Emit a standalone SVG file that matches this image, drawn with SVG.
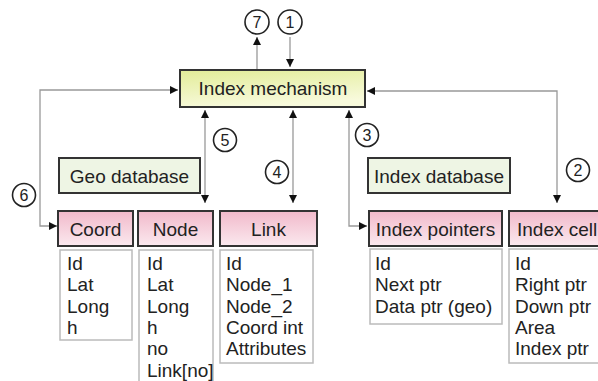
<svg xmlns="http://www.w3.org/2000/svg" width="598" height="381" viewBox="0 0 598 381">
<defs>
<linearGradient id="gY" x1="0" y1="0" x2="0.3" y2="1">
<stop offset="0" stop-color="#e2ec98"/>
<stop offset="1" stop-color="#f8fadc"/>
</linearGradient>
<linearGradient id="gP" x1="0" y1="0" x2="0" y2="1">
<stop offset="0" stop-color="#f1b9ca"/>
<stop offset="1" stop-color="#fbe9ef"/>
</linearGradient>
<marker id="ah" viewBox="0 0 10 10" refX="10" refY="5" markerWidth="8" markerHeight="8" markerUnits="userSpaceOnUse" orient="auto-start-reverse">
<path d="M0,0 L10,5 L0,10 Z" fill="#111"/>
</marker>
<style>
.t{font-family:"Liberation Sans",Arial,sans-serif;font-size:19px;fill:#222}
.c{text-anchor:middle}
.n{font-family:"Liberation Sans",Arial,sans-serif;font-size:16px;fill:#222;text-anchor:middle}
.hdr{fill:url(#gP);stroke:#333;stroke-width:2}
.body{fill:#fff;stroke:#bbb;stroke-width:1.5}
.db{fill:#eef5e4;stroke:#333;stroke-width:2}
.cn{fill:none;stroke:#999;stroke-width:1.3;marker-end:url(#ah)}
.both{marker-start:url(#ah)}
.circ{fill:#fff;stroke:#222;stroke-width:1.6}
</style>
</defs>
<g id="connectors">
<path class="cn" d="M257,70 V37"/>
<path class="cn" d="M290,37 V67"/>
<path class="cn both" d="M178,90 H40 V226 H57"/>
<path class="cn both" d="M205,110 V203"/>
<path class="cn both" d="M293,110 V203"/>
<path class="cn both" d="M349,110 V226 H367"/>
<path class="cn both" d="M367,91 H557 V203"/>
</g>
<g id="labels">
<g id="c7"><circle class="circ" cx="257" cy="22" r="12"/><text class="n" x="257" y="28">7</text></g>
<g id="c1"><circle class="circ" cx="290" cy="22" r="12"/><text class="n" x="290" y="28">1</text></g>
<g id="c6"><circle class="circ" cx="24" cy="195" r="11.5"/><text class="n" x="24" y="201">6</text></g>
<g id="c5"><circle class="circ" cx="225" cy="140" r="11.5"/><text class="n" x="225" y="146">5</text></g>
<g id="c4"><circle class="circ" cx="277" cy="172" r="11.5"/><text class="n" x="277" y="178">4</text></g>
<g id="c3"><circle class="circ" cx="367" cy="135" r="11.5"/><text class="n" x="367" y="141">3</text></g>
<g id="c2"><circle class="circ" cx="578" cy="170" r="11.5"/><text class="n" x="578" y="176">2</text></g>
</g>
<g id="index-mechanism">
<rect x="180" y="70" width="185" height="37" fill="url(#gY)" stroke="#333" stroke-width="2"/>
<text class="t c" x="273" y="95">Index mechanism</text>
</g>
<g id="geo-database">
<rect class="db" x="59" y="158" width="141" height="35"/>
<text class="t c" x="129.5" y="182.5">Geo database</text>
</g>
<g id="index-database">
<rect class="db" x="368" y="158" width="142" height="35"/>
<text class="t c" x="439" y="182.5">Index database</text>
</g>
<g id="coord">
<rect class="hdr" x="58" y="211" width="75" height="35"/>
<text class="t c" x="95.5" y="236">Coord</text>
<rect class="body" x="60" y="250" width="72" height="90"/>
<text class="t" x="67" y="270">Id</text>
<text class="t" x="67" y="291.3">Lat</text>
<text class="t" x="67" y="312.6">Long</text>
<text class="t" x="67" y="333.9">h</text>
</g>
<g id="node">
<rect class="hdr" x="138" y="211" width="75" height="35"/>
<text class="t c" x="175.5" y="236">Node</text>
<rect class="body" x="139" y="250" width="74" height="140"/>
<text class="t" x="147" y="270">Id</text>
<text class="t" x="147" y="291.3">Lat</text>
<text class="t" x="147" y="312.6">Long</text>
<text class="t" x="147" y="333.9">h</text>
<text class="t" x="147" y="355.2">no</text>
<text class="t" x="147" y="376.5">Link[no]</text>
</g>
<g id="link">
<rect class="hdr" x="220" y="211" width="97" height="35"/>
<text class="t c" x="268.5" y="236">Link</text>
<rect class="body" x="220" y="250" width="93" height="113"/>
<text class="t" x="226" y="270">Id</text>
<text class="t" x="226" y="291.3">Node_1</text>
<text class="t" x="226" y="312.6">Node_2</text>
<text class="t" x="226" y="333.9">Coord int</text>
<text class="t" x="226" y="355.2">Attributes</text>
</g>
<g id="index-pointers">
<rect class="hdr" x="369" y="211" width="133" height="35"/>
<text class="t c" x="435.5" y="236">Index pointers</text>
<rect class="body" x="370" y="249" width="132" height="75"/>
<text class="t" x="375" y="270">Id</text>
<text class="t" x="375" y="291.3">Next ptr</text>
<text class="t" x="375" y="312.6">Data ptr (geo)</text>
</g>
<g id="index-cell">
<rect class="hdr" x="509" y="211" width="100" height="35"/>
<text class="t" x="517" y="236">Index cell</text>
<rect class="body" x="509" y="249" width="100" height="114"/>
<text class="t" x="515" y="270">Id</text>
<text class="t" x="515" y="291.3">Right ptr</text>
<text class="t" x="515" y="312.6">Down ptr</text>
<text class="t" x="515" y="333.9">Area</text>
<text class="t" x="515" y="355.2">Index ptr</text>
</g>
</svg>
